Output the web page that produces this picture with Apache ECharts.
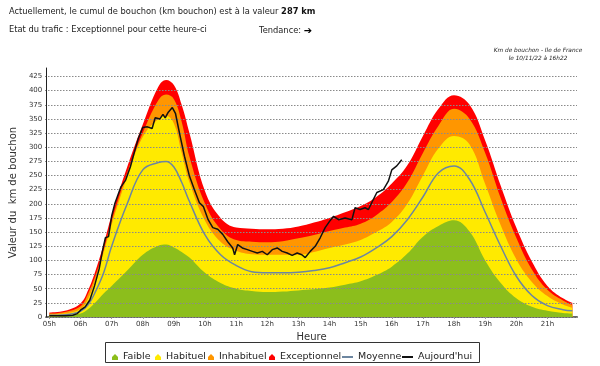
<!DOCTYPE html>
<html>
<head>
<meta charset="utf-8">
<script src="https://cdn.jsdelivr.net/npm/echarts@6/dist/echarts.min.js"></script>
<style>
html,body{margin:0;padding:0;background:#fff;}
#chart{width:600px;height:366px;}
</style>
</head>
<body>
<div id="chart"></div>
<script>
// Time grid (hours) for the reference bands
const hours = [5,5.5,6,6.25,6.5,6.75,7,7.5,8,8.5,8.75,9,9.25,9.5,10,10.5,11,11.5,12,12.5,13,13.5,14,14.5,15,15.5,16,16.5,17,17.5,18,18.5,19,19.5,20,20.5,21,21.5,21.8];
const exceptionnel = [8,11,24,48,85,130,180,265,340,407,419,410,375,325,222,175,158,156,155,156,160,167,175,185,196,212,236,268,320,368,392,375,312,232,158,98,55,33,25];
const inhabituel = [6,9,19,42,76,120,170,255,325,383,393,385,345,283,200,155,136,133,132,134,139,145,152,158,165,180,203,238,290,338,368,350,290,210,140,84,48,29,21];
const habituel = [4,6,14,33,70,115,163,248,318,350,355,342,290,238,170,133,117,111,110,110,110,115,122,128,136,150,168,200,250,298,320,305,235,162,102,62,37,22,16];
const moyenne = [3,4,10,22,47,79,125,200,260,273,275,265,238,204,145,110,91,80,78,78,79,82,87,96,106,122,142,172,212,255,267,243,185,125,72,38,20,13,11];
const faible = [1,2,6,14,27,42,55,82,110,126,128,123,115,105,78,60,50,46,44,45,47,49,52,57,63,74,89,112,142,161,171,151,100,60,33,18,11,7,6];

// Today's measurements
const todayHours = [5,5.5,5.75,5.9,6,6.15,6.3,6.45,6.6,6.7,6.8,6.9,7,7.1,7.2,7.3,7.45,7.6,7.75,7.86,8,8.15,8.3,8.4,8.55,8.65,8.72,8.82,8.95,9.05,9.18,9.34,9.5,9.66,9.82,9.95,10.1,10.25,10.41,10.57,10.73,10.89,10.95,11.05,11.2,11.36,11.52,11.68,11.84,12,12.16,12.32,12.48,12.64,12.8,12.96,13.11,13.22,13.38,13.54,13.7,13.86,14,14.13,14.29,14.5,14.72,14.82,14.98,15.14,15.25,15.41,15.52,15.73,15.89,16,16.16,16.32];
const todayValues = [2,2,3,6,12,18,30,55,85,115,140,142,178,200,215,230,242,265,295,316,335,336,333,352,350,358,352,362,370,360,325,284,249,225,202,195,172,158,155,146,133,122,110,128,122,119,116,113,116,110,119,122,116,113,109,113,110,105,116,125,140,158,169,178,172,175,172,193,190,193,190,208,220,225,240,260,267,278];

// Tick labels
const hourTicks = [5,6,7,8,9,10,11,12,13,14,15,16,17,18,19,20,21];
const yTicks = [0,25,50,75,100,125,150,175,200,225,250,275,300,325,350,375,400,425];

const legendItems = ['Faible','Habituel','Inhabituel','Exceptionnel','Moyenne',"Aujourd'hui"];

const FONT = 'DejaVu Sans';
const colors = {Faible:'#8cbe1c', Habituel:'#ffea00', Inhabituel:'#ff9600', Exceptionnel:'#ff0000', Moyenne:'#6d86a0', "Aujourd'hui":'#111111'};

function pairs(xs, ys){ return xs.map((x,i)=>[x, ys[i]]); }
function band(name, values){
  return {
    name: name, type:'line', data: pairs(hours, values), smooth: 0.4, showSymbol:false, symbol:'none',
    lineStyle:{width:0}, areaStyle:{color:colors[name], opacity:1}, itemStyle:{color:colors[name]}, z:2, silent:true
  };
}
const housePath = 'path://M5,0 L10,5 L10,10 L0,10 L0,5 Z';
const legendLeft = [107, 150, 203, 264, 337, 397];

const legends = legendItems.map((n, i) => {
  const isLine = i >= 4;
  return {
    data:[{name:n, icon: isLine ? 'rect' : housePath}],
    left: legendLeft[i], top: 347,
    itemWidth: isLine ? 11 : 6, itemHeight: isLine ? 2 : 6,
    textStyle:{fontFamily:FONT, fontSize:9.5, color:'#222'},
    selectedMode:false
  };
});

const chart = echarts.init(document.getElementById('chart'), null, {renderer:'canvas'});
chart.setOption({
  animation:false,
  backgroundColor:'#fff',
  textStyle:{fontFamily:FONT},
  title:[
    {text:'Actuellement, le cumul de bouchon (km bouchon) est à la valeur {b|287 km}', left:4, top:3,
     textStyle:{fontFamily:FONT, fontSize:8.3, fontWeight:'normal', color:'#222', rich:{b:{fontFamily:FONT, fontSize:8.3, fontWeight:'bold', color:'#111'}}}},
    {text:'Etat du trafic : Exceptionnel pour cette heure-ci', left:4, top:21, textStyle:{fontFamily:FONT, fontSize:8.3, fontWeight:'normal', color:'#222'}},
    {text:'Tendance: {a|➔}', left:254, top:21, textStyle:{fontFamily:FONT, fontSize:8.3, fontWeight:'normal', color:'#222',
      rich:{a:{fontFamily:FONT, fontSize:10, fontWeight:'bold', color:'#000'}}}},
    {text:'Km de bouchon - Ile de France\nle 10/11/22 à 16h22', left:533, top:41, textAlign:'center',
     textStyle:{fontFamily:FONT, fontSize:5.8, fontStyle:'italic', fontWeight:'normal', color:'#222', lineHeight:8}}
  ],
  grid:[
    {left:45, right:23, top:68, bottom:49},
    {left:45, right:23, top:76.5, bottom:49}
  ],
  xAxis:[{
    type:'value', min:4.9, max:21.95, gridIndex:0,
    name:'Heure', nameLocation:'middle', nameGap:14,
    nameTextStyle:{fontFamily:FONT, fontSize:10, color:'#333'},
    axisLine:{lineStyle:{color:'#666', width:2}},
    axisTick:{show:true, length:2, customValues:hourTicks, lineStyle:{color:'#999'}},
    axisLabel:{customValues:hourTicks, fontFamily:FONT, fontSize:7, color:'#333', margin:4,
      formatter:v => (v<10?'0':'')+Math.round(v)+'h'},
    splitLine:{show:false}
  },{
    type:'value', min:4.9, max:21.95, gridIndex:1, show:false
  }],
  yAxis:[{
    type:'value', min:0, max:440, gridIndex:0, z:5,
    name:'Valeur du  km de bouchon', nameLocation:'middle', nameGap:17, nameRotate:90,
    nameTextStyle:{fontFamily:FONT, fontSize:10, color:'#333'},
    axisLine:{show:true, lineStyle:{color:'#222', width:1}},
    axisTick:{show:false, customValues:yTicks},
    axisLabel:{customValues:yTicks, fontFamily:FONT, fontSize:7, color:'#333', margin:4},
    splitLine:{show:false}
  },{
    type:'value', min:0, max:425, interval:25, gridIndex:1, z:5,
    axisLine:{show:false}, axisTick:{show:false}, axisLabel:{show:false},
    splitLine:{show:true, lineStyle:{color:'#8a8a8a', width:1, type:[1.5,1.5]}}
  }],
  legend: legends,
  graphic:[
    {type:'rect', shape:{x:105.5, y:342.5, width:374, height:20}, style:{fill:null, stroke:'#333', lineWidth:1}, silent:true}
  ],
  series:[
    band('Exceptionnel', exceptionnel),
    band('Inhabituel', inhabituel),
    band('Habituel', habituel),
    band('Faible', faible),
    {name:'Moyenne', type:'line', data:pairs(hours, moyenne), smooth:0.4, symbol:'none', z:6,
     lineStyle:{color:colors.Moyenne, width:1.5}, itemStyle:{color:colors.Moyenne}},
    {name:"Aujourd'hui", type:'line', data:pairs(todayHours, todayValues), smooth:false, symbol:'none', z:7,
     lineStyle:{color:colors["Aujourd'hui"], width:1.5}, itemStyle:{color:colors["Aujourd'hui"]}}
  ]
});
</script>
</body>
</html>
